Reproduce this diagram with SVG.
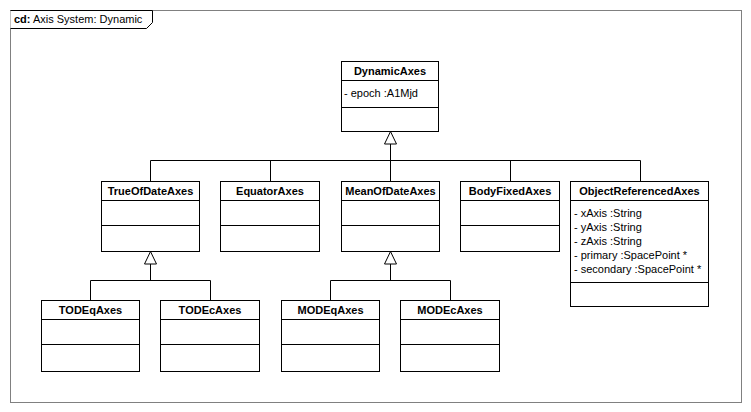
<svg xmlns="http://www.w3.org/2000/svg" width="751" height="412" viewBox="0 0 751 412">
<style>
.box{fill:#fff;stroke:#000;stroke-width:1}
.ln{fill:none;stroke:#000;stroke-width:1}
.tri{fill:#fff;stroke:#000;stroke-width:1}
.nm{font-family:"Liberation Sans",Arial,sans-serif;font-size:11px;font-weight:bold;text-anchor:middle;fill:#000}
.at{font-family:"Liberation Sans",Arial,sans-serif;font-size:11px;fill:#000}
</style>
<rect x="0" y="0" width="751" height="412" fill="#fff"/>
<g id="frame">
<rect x="10.5" y="10.5" width="731" height="392" fill="none" stroke="#808080"/>
<path d="M10.5,10.5 H152.5 V22.5 L146.5,28.5 H10.5" fill="#fff" stroke="#000"/>
<text x="14" y="23" class="at"><tspan font-weight="bold">cd:</tspan> Axis System: Dynamic</text>
</g>
<g id="connectors">
<path class="ln" d="M390.5,144 V160.5 M150.5,160.5 H640.5 M150.5,160.5 V181 M270.5,160.5 V181 M390.5,160.5 V181 M510.5,160.5 V181 M640.5,160.5 V181"/>
<polygon class="tri" points="390.5,131.5 384.5,144 396.5,144"/>
<path class="ln" d="M150.5,264 V280.5 M90.5,280.5 H210.5 M90.5,280.5 V300 M210.5,280.5 V300"/>
<polygon class="tri" points="150.5,251.5 144.5,264 156.5,264"/>
<path class="ln" d="M390.5,264 V280.5 M330.5,280.5 H450.5 M330.5,280.5 V300 M450.5,280.5 V300"/>
<polygon class="tri" points="390.5,251.5 384.5,264 396.5,264"/>
</g>
<g id="DynamicAxes">
<rect class="box" x="341.5" y="61.5" width="97" height="70"/>
<path class="ln" d="M341.5,80.5 H438.5 M341.5,107.5 H438.5"/>
<text class="nm" x="390" y="75">DynamicAxes</text>
<text class="at" x="344" y="97">- epoch :A1Mjd</text>
</g>
<g id="TrueOfDateAxes">
<rect class="box" x="101.5" y="181.5" width="98" height="70"/>
<path class="ln" d="M101.5,200.5 H199.5 M101.5,225.5 H199.5"/>
<text class="nm" x="150.5" y="195">TrueOfDateAxes</text>
</g>
<g id="EquatorAxes">
<rect class="box" x="220.5" y="181.5" width="99" height="70"/>
<path class="ln" d="M220.5,200.5 H319.5 M220.5,225.5 H319.5"/>
<text class="nm" x="270" y="195">EquatorAxes</text>
</g>
<g id="MeanOfDateAxes">
<rect class="box" x="341.5" y="181.5" width="98" height="70"/>
<path class="ln" d="M341.5,200.5 H439.5 M341.5,225.5 H439.5"/>
<text class="nm" x="390.5" y="195">MeanOfDateAxes</text>
</g>
<g id="BodyFixedAxes">
<rect class="box" x="460.5" y="181.5" width="99" height="70"/>
<path class="ln" d="M460.5,200.5 H559.5 M460.5,225.5 H559.5"/>
<text class="nm" x="510" y="195">BodyFixedAxes</text>
</g>
<g id="ObjectReferencedAxes">
<rect class="box" x="570.5" y="181.5" width="138" height="125"/>
<path class="ln" d="M570.5,200.5 H708.5 M570.5,282.5 H708.5"/>
<text class="nm" x="639.5" y="195">ObjectReferencedAxes</text>
<text class="at" x="574" y="217">- xAxis :String</text>
<text class="at" x="574" y="231">- yAxis :String</text>
<text class="at" x="574" y="245">- zAxis :String</text>
<text class="at" x="574" y="259">- primary :SpacePoint *</text>
<text class="at" x="574" y="273">- secondary :SpacePoint *</text>
</g>
<g id="TODEqAxes">
<rect class="box" x="41.5" y="300.5" width="98" height="71"/>
<path class="ln" d="M41.5,319.5 H139.5 M41.5,344.5 H139.5"/>
<text class="nm" x="90.5" y="314">TODEqAxes</text>
</g>
<g id="TODEcAxes">
<rect class="box" x="160.5" y="300.5" width="99" height="71"/>
<path class="ln" d="M160.5,319.5 H259.5 M160.5,344.5 H259.5"/>
<text class="nm" x="210" y="314">TODEcAxes</text>
</g>
<g id="MODEqAxes">
<rect class="box" x="281.5" y="300.5" width="98" height="71"/>
<path class="ln" d="M281.5,319.5 H379.5 M281.5,344.5 H379.5"/>
<text class="nm" x="330.5" y="314">MODEqAxes</text>
</g>
<g id="MODEcAxes">
<rect class="box" x="400.5" y="300.5" width="99" height="71"/>
<path class="ln" d="M400.5,319.5 H499.5 M400.5,344.5 H499.5"/>
<text class="nm" x="450" y="314">MODEcAxes</text>
</g>
</svg>
